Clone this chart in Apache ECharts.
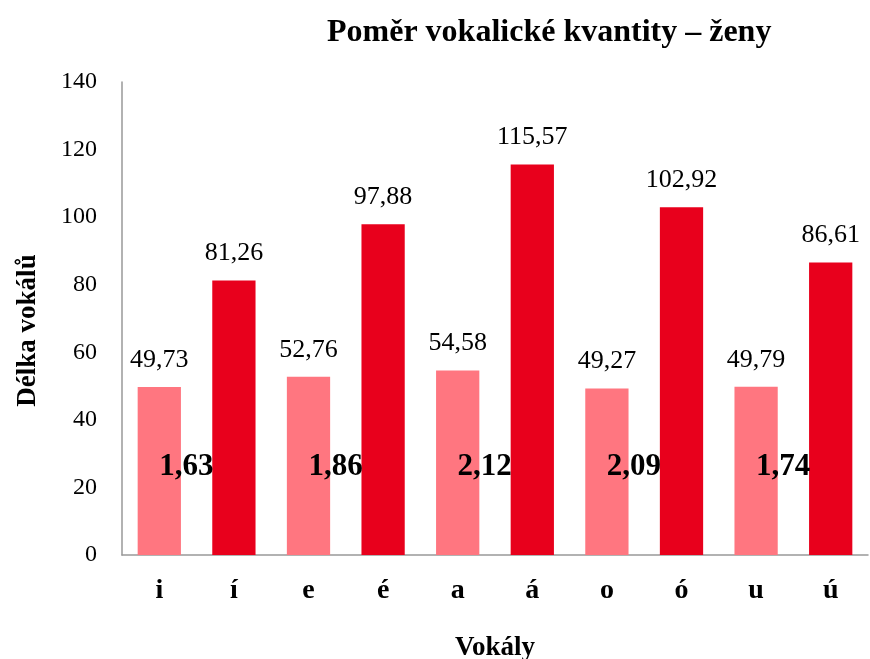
<!DOCTYPE html>
<html>
<head>
<meta charset="utf-8">
<script src="https://cdn.jsdelivr.net/npm/echarts@6/dist/echarts.min.js"></script>
<style>
  html, body { margin: 0; padding: 0; background: #fff; }
  #main { width: 870px; height: 659px; }
</style>
</head>
<body>
<div id="main"></div>
<script>
// vokály a délky
var categories = ['i', 'í', 'e', 'é', 'a', 'á', 'o', 'ó', 'u', 'ú'];
var lengths = [49.73, 81.26, 52.76, 97.88, 54.58, 115.57, 49.27, 102.92, 49.79, 86.61];
// poměr kvantity (umístěn u krátkých vokálů)
var ratioIndex = [0, 2, 4, 6, 8];
var ratioLabels = ['1,63', '1,86', '2,12', '2,09', '1,74'];
var ratioLevel = 26;

var shortColor = '#FF7680';
var longColor = '#E8001C';
var font = '"Liberation Serif", "DejaVu Serif", serif';

var barData = lengths.map(function (v, i) {
    return {
        value: v,
        itemStyle: { color: i % 2 === 0 ? shortColor : longColor }
    };
});

var ratioData = ratioIndex.map(function (idx, k) {
    return { value: [idx, ratioLevel], name: ratioLabels[k] };
});

var option = {
    backgroundColor: '#fff',
    animation: false,
    textStyle: { fontFamily: font },
    title: {
        text: 'Poměr vokalické kvantity – ženy',
        left: 322,
        top: 12,
        textStyle: { fontFamily: font, fontSize: 32, fontWeight: 'bold', color: '#000' }
    },
    grid: { left: 122, right: 2, top: 82, bottom: 104, outerBoundsMode: 'none', containLabel: false },
    xAxis: {
        type: 'category',
        data: categories,
        name: 'Vokály',
        nameLocation: 'middle',
        nameGap: 80,
        nameTextStyle: { fontFamily: font, fontSize: 27, fontWeight: 'bold', color: '#000' },
        axisLine: { lineStyle: { color: '#999', width: 1.5 } },
        axisTick: { show: false },
        axisLabel: { fontFamily: font, fontSize: 28, fontWeight: 'bold', color: '#000', margin: 22 }
    },
    yAxis: {
        type: 'value',
        min: 0,
        max: 140,
        interval: 20,
        name: 'Délka vokálů',
        nameLocation: 'middle',
        nameGap: 80,
        nameTextStyle: { fontFamily: font, fontSize: 27, fontWeight: 'bold', color: '#000', padding: [0, 24, 0, 0] },
        axisLine: { show: true, lineStyle: { color: '#999', width: 1.5 } },
        axisTick: { show: false },
        splitLine: { show: false },
        axisLabel: { fontFamily: font, fontSize: 24, color: '#000', margin: 25 }
    },
    series: [
        {
            name: 'Délka',
            type: 'bar',
            barWidth: '58%',
            data: barData,
            label: {
                show: true,
                position: 'top',
                distance: 14,
                fontFamily: font,
                fontSize: 26,
                color: '#000',
                formatter: function (p) {
                    return p.value.toFixed(2).replace('.', ',');
                }
            }
        },
        {
            name: 'Poměr',
            type: 'scatter',
            symbolSize: 0,
            data: ratioData,
            z: 5,
            emphasis: { disabled: true },
            label: {
                show: true,
                position: 'inside',
                offset: [27, 0],
                fontFamily: font,
                fontSize: 31,
                fontWeight: 'bold',
                color: '#000',
                opacity: 1,
                formatter: function (p) { return p.name; }
            }
        }
    ]
};

var myChart = echarts.init(document.getElementById('main'));
myChart.setOption(option);
</script>
</body>
</html>
